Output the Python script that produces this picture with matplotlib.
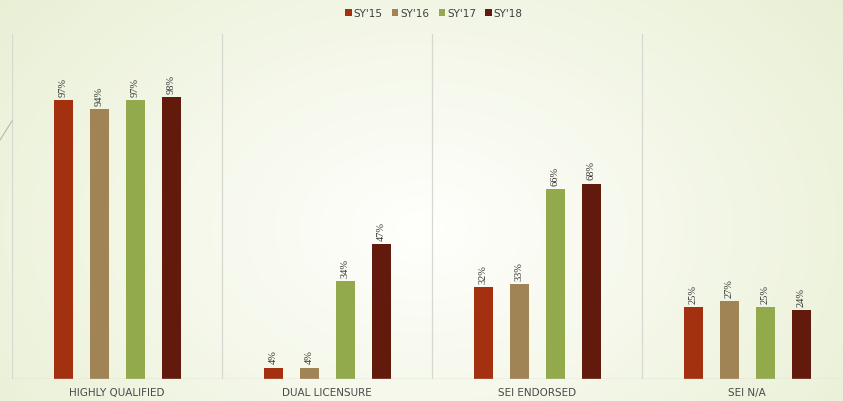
import matplotlib.pyplot as plt
import numpy as np
from matplotlib.lines import Line2D

categories = ["HIGHLY QUALIFIED", "DUAL LICENSURE", "SEI ENDORSED", "SEI N/A"]
years = ["SY'15", "SY'16", "SY'17", "SY'18"]
sy15 = [97, 4, 32, 25]
sy16 = [94, 4, 33, 27]
sy17 = [97, 34, 66, 25]
sy18 = [98, 47, 68, 24]
series = [sy15, sy16, sy17, sy18]
colors = ["#a3300f", "#a08456", "#93aa4c", "#611a0c"]

fig = plt.figure(figsize=(8.43, 4.02), dpi=100)

# soft radial background
bg = fig.add_axes([0, 0, 1, 1], zorder=-10)
yy, xx = np.mgrid[0:402, 0:843]
r = np.sqrt(((xx - 420) / 620.0) ** 2 + ((yy - 230) / 440.0) ** 2)
r = np.clip(r, 0, 1)
c0 = np.array([1.0, 1.0, 0.99])
c1 = np.array([0.90, 0.93, 0.81])
img = c0[None, None, :] * (1 - r[..., None]) + c1[None, None, :] * r[..., None]
bg.imshow(img, aspect="auto", extent=[0, 1, 0, 1])
bg.axis("off")

# small decorative stroke on the left edge
fig.add_artist(Line2D([0, 12 / 843], [1 - 141 / 402, 1 - 122 / 402],
                      color="#b8b8a8", lw=0.8))

ax = fig.add_axes([12 / 843, 22 / 402, 840 / 843, 345 / 402])
ax.patch.set_alpha(0)

x = np.arange(len(categories))
step = 36 / 210
width = 19 / 210
for i, (vals, col, lab) in enumerate(zip(series, colors, years)):
    pos = x + (i - 1.5) * step
    bars = ax.bar(pos, vals, width, color=col, label=lab, zorder=3)
    for b, v in zip(bars, vals):
        ax.annotate(f"{v}%", (b.get_x() + b.get_width() / 2, v),
                    xytext=(0, 3), textcoords="offset points",
                    rotation=90, ha="center", va="bottom",
                    fontsize=7.5, family="Liberation Serif", color="#333333")

ax.set_xlim(-0.5, len(categories) - 0.5)
ax.set_ylim(0, 120)
for b in np.arange(-0.5, len(categories), 1.0):
    ax.axvline(b, color="#d8d8d0", lw=0.9, zorder=1)
for s in ax.spines.values():
    s.set_visible(False)
ax.axhline(0, color="#d0d0c8", lw=1.0, zorder=4)
ax.set_yticks([])
ax.set_xticks(x)
ax.set_xticklabels(categories, fontsize=7.5, color="#4a4a4a")
ax.tick_params(axis="x", length=0, pad=6)

leg = fig.legend(loc="upper center", bbox_to_anchor=(434 / 843, 1.0), ncol=4,
                 frameon=False, fontsize=7.5, handlelength=0.6, handleheight=0.6,
                 handletextpad=0.2, columnspacing=0.9, labelcolor="#404040")

fig.savefig("out.png", dpi=100)
plt.close(fig)
